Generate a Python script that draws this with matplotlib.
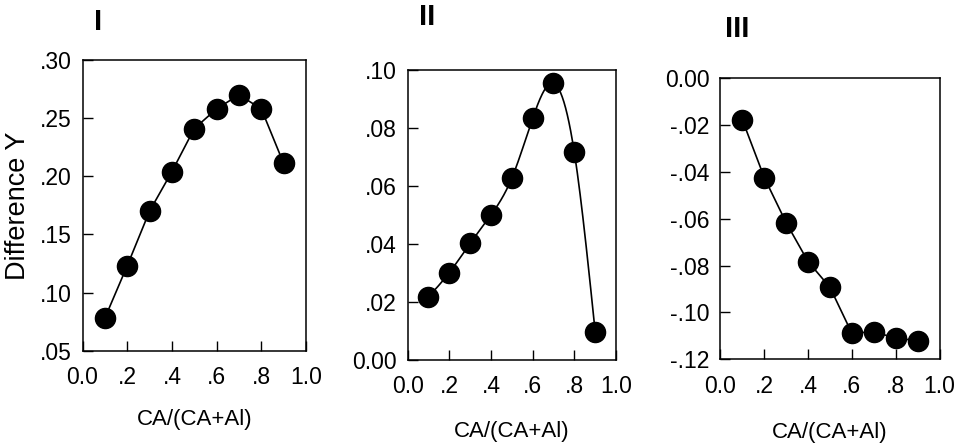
import numpy as np
import matplotlib
matplotlib.use("Agg")
import matplotlib.pyplot as plt

plt.rcParams['font.family'] = ['Liberation Sans', 'DejaVu Sans']

x = [0.1, 0.2, 0.3, 0.4, 0.5, 0.6, 0.7, 0.8, 0.9]
y1 = [0.078, 0.123, 0.170, 0.204, 0.241, 0.258, 0.270, 0.258, 0.211]
y2 = [0.0218, 0.0301, 0.0402, 0.0500, 0.0627, 0.0833, 0.0954, 0.0716, 0.0098]
y3 = [-0.0178, -0.0424, -0.0617, -0.0783, -0.0893, -0.1089, -0.1082, -0.1110, -0.1120]

xticks = [0.0, 0.2, 0.4, 0.6, 0.8, 1.0]
xticklabels = ["0.0", ".2", ".4", ".6", ".8", "1.0"]
yticks1 = [0.05, 0.10, 0.15, 0.20, 0.25, 0.30]
yticklabels1 = [".05", ".10", ".15", ".20", ".25", ".30"]
yticks2 = [0.00, 0.02, 0.04, 0.06, 0.08, 0.10]
yticklabels2 = ["0.00", ".02", ".04", ".06", ".08", ".10"]
yticks3 = [-0.12, -0.10, -0.08, -0.06, -0.04, -0.02, 0.00]
yticklabels3 = ["-.12", "-.10", "-.08", "-.06", "-.04", "-.02", "0.00"]
titles = ["I", "II", "III"]
xlabel = "CA/(CA+Al)"
ylabel = "Difference Y"


def natural_spline(xs, ys, n=300):
    xs = np.asarray(xs, float)
    ys = np.asarray(ys, float)
    m = len(xs)
    h = np.diff(xs)
    A = np.zeros((m, m))
    b = np.zeros(m)
    A[0, 0] = 1
    A[-1, -1] = 1
    for i in range(1, m - 1):
        A[i, i - 1] = h[i - 1]
        A[i, i] = 2 * (h[i - 1] + h[i])
        A[i, i + 1] = h[i]
        b[i] = 6 * ((ys[i + 1] - ys[i]) / h[i] - (ys[i] - ys[i - 1]) / h[i - 1])
    M = np.linalg.solve(A, b)
    xx = np.linspace(xs[0], xs[-1], n)
    yy = np.empty_like(xx)
    for k, xv in enumerate(xx):
        i = min(np.searchsorted(xs, xv) - 1, m - 2)
        i = max(i, 0)
        t1 = xs[i + 1] - xv
        t0 = xv - xs[i]
        yy[k] = (M[i] * t1 ** 3 / (6 * h[i]) + M[i + 1] * t0 ** 3 / (6 * h[i])
                 + (ys[i] / h[i] - M[i] * h[i] / 6) * t1
                 + (ys[i + 1] / h[i] - M[i + 1] * h[i] / 6) * t0)
    return xx, yy


fig = plt.figure(figsize=(9.62, 4.48), dpi=100)

W, H = 962.0, 448.0
boxes = [
    (82.5, 60.0, 306.0, 350.7),
    (407.6, 70.0, 616.0, 360.0),
    (720.5, 78.3, 939.5, 359.3),
]
axes = []
for (l, t, r, btm) in boxes:
    axes.append(fig.add_axes([l / W, (H - btm) / H, (r - l) / W, (btm - t) / H]))

datas = [y1, y2, y3]
yts = [yticks1, yticks2, yticks3]
ytls = [yticklabels1, yticklabels2, yticklabels3]
smooth = [False, True, False]
title_pos = [(0.0707, 1.131), (0.0955, 1.184), (0.074, 1.175)]
xlabel_y = [-0.235, -0.245, -0.259]

for i, ax in enumerate(axes):
    if smooth[i]:
        xx, yy = natural_spline(x, datas[i])
        ax.plot(xx, yy, color='black', lw=1.2, zorder=2)
    else:
        ax.plot(x, datas[i], color='black', lw=1.2, zorder=2)
    ax.plot(x, datas[i], 'o', color='black', ms=14.5, zorder=3)
    ax.set_xlim(0, 1.0)
    ax.set_ylim(yts[i][0], yts[i][-1])
    ax.set_xticks(xticks)
    ax.set_xticklabels(xticklabels)
    ax.set_yticks(yts[i])
    ax.set_yticklabels(ytls[i])
    ax.tick_params(direction='in', length=7.5, width=1.0, labelsize=16.5,
                   top=False, right=False)
    ax.tick_params(axis='x', pad=11)
    ax.tick_params(axis='y', pad=8)
    for s in ax.spines.values():
        s.set_linewidth(1.1)
    ax.set_xlabel(xlabel, fontsize=16, va='center')
    ax.xaxis.set_label_coords(0.5, xlabel_y[i])
    ax.text(title_pos[i][0], title_pos[i][1], titles[i], transform=ax.transAxes,
            fontsize=21, fontweight='bold', ha='center', va='center')

axes[0].set_ylabel(ylabel, fontsize=19.5, va='center')
axes[0].yaxis.set_label_coords(-0.2886, 0.5)

fig.savefig("out.png", dpi=100)
